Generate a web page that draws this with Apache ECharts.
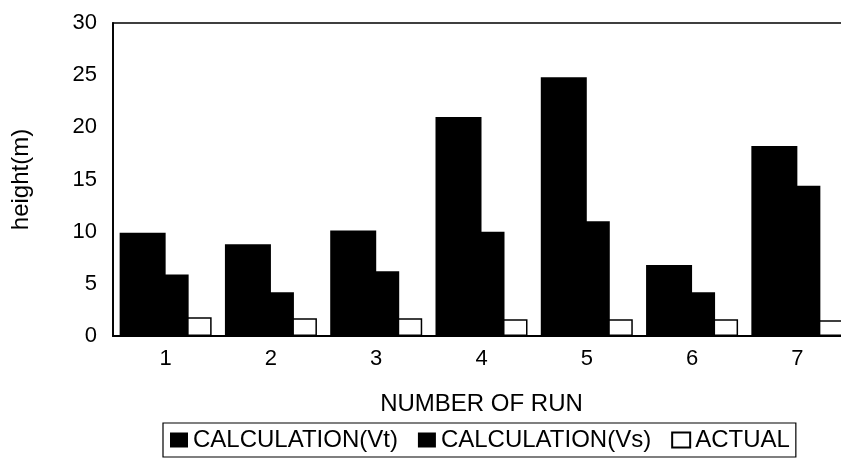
<!DOCTYPE html>
<html>
<head>
<meta charset="utf-8">
<script src="https://cdn.jsdelivr.net/npm/echarts@6/dist/echarts.min.js"></script>
<style>
html,body{margin:0;padding:0;background:#fff;}
#c{width:841px;height:462px;}
</style>
</head>
<body>
<div id="c"></div>
<script>
const categories = ['1','2','3','4','5','6','7'];
const vtValues = [9.9, 8.8, 10.1, 21.0, 24.8, 6.8, 18.2];
const vsValues = [5.9, 4.2, 6.2, 10.0, 11.0, 4.2, 14.4];
const actualValues = [1.8, 1.7, 1.7, 1.6, 1.6, 1.6, 1.5];
const seriesNames = ['CALCULATION(Vt)', 'CALCULATION(Vs)', 'ACTUAL'];

const font = 'Liberation Sans, Arial, sans-serif';
const chart = echarts.init(document.getElementById('c'));
chart.setOption({
  animation: false,
  backgroundColor: '#fff',
  grid: {
    left: 113, width: 737, top: 23, height: 313,
    outerBoundsMode: 'none',
    containLabel: false,
    show: true, borderColor: '#000', borderWidth: 1.5, backgroundColor: 'transparent'
  },
  legend: {
    data: seriesNames,
    left: 163, top: 423,
    orient: 'horizontal',
    icon: 'rect',
    itemWidth: 18, itemHeight: 15, itemGap: 20,
    padding: [5, 6, 5, 7],
    borderColor: '#000', borderWidth: 1.2, borderRadius: 0,
    textStyle: { fontFamily: font, fontSize: 24, color: '#000' }
  },
  xAxis: {
    type: 'category',
    data: categories,
    name: 'NUMBER OF RUN',
    nameLocation: 'middle',
    nameGap: 56,
    nameTextStyle: { fontFamily: font, fontSize: 24, color: '#000' },
    axisLine: { show: true, lineStyle: { color: '#000', width: 1.8 } },
    axisTick: { show: false },
    axisLabel: { fontFamily: font, fontSize: 22, color: '#000', margin: 12 },
    splitLine: { show: false }
  },
  yAxis: {
    type: 'value',
    min: 0, max: 30, interval: 5,
    name: 'height(m)',
    nameLocation: 'middle',
    nameGap: 80,
    nameRotate: 90,
    nameTextStyle: { fontFamily: font, fontSize: 24, color: '#000' },
    axisLine: { show: true, lineStyle: { color: '#000', width: 1.8 } },
    axisTick: { show: false },
    axisLabel: { fontFamily: font, fontSize: 22, color: '#000', margin: 16 },
    splitLine: { show: false }
  },
  series: [
    {
      name: seriesNames[0], type: 'bar', data: vtValues,
      barWidth: 46, barGap: '-50%', z: 2,
      itemStyle: { color: '#000', borderColor: '#000', borderWidth: 0 }
    },
    {
      name: seriesNames[1], type: 'bar', data: vsValues,
      barWidth: 46, barGap: '-50%', z: 4,
      itemStyle: { color: '#000', borderColor: '#000', borderWidth: 0 }
    },
    {
      name: seriesNames[2], type: 'bar', data: actualValues,
      barWidth: 46, barGap: '-50%', z: 3,
      itemStyle: { color: '#fff', borderColor: '#000', borderWidth: 1.5 }
    }
  ]
});
</script>
</body>
</html>
